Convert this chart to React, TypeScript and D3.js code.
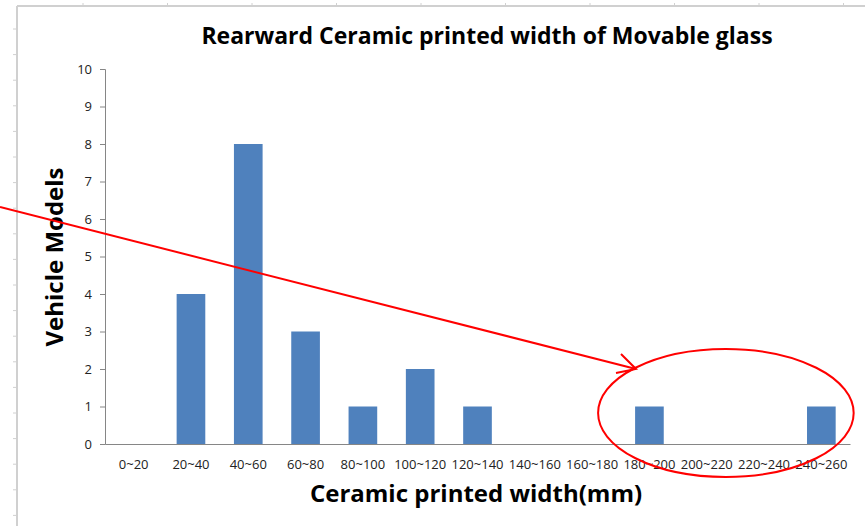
import React, { useEffect, useRef } from "react";
import * as d3 from "d3";

const width = 865,
  height = 526;

const categories = [
  "0~20", "20~40", "40~60", "60~80", "80~100", "100~120", "120~140",
  "140~160", "160~180", "180~200", "200~220", "220~240", "240~260",
];
const counts = [0, 4, 8, 3, 1, 2, 1, 0, 0, 1, 0, 0, 1];
const yTicks = [0, 1, 2, 3, 4, 5, 6, 7, 8, 9, 10];

const titleText = "Rearward Ceramic printed width of Movable glass";
const xTitle = "Ceramic printed width(mm)";
const yTitle = "Vehicle Models";

const margin = { top: 69, right: 15, bottom: 82, left: 105 };
const font = "'Open Sans', Lato, sans-serif";
const barColor = "#4f81bd";
const red = "#ff0000";

export default function App() {
  const svgRef = useRef<SVGSVGElement>(null);

  useEffect(() => {
    const svg = d3.select(svgRef.current);
    svg.selectAll("*").remove();

    const plotW = width - margin.left - margin.right;
    const plotH = height - margin.top - margin.bottom;

    // sheet frame (left + top border with little row / column marks)
    const frame = svg.append("g").attr("stroke", "#d0d0d0");
    frame.append("line").attr("x1", 17).attr("x2", 17).attr("y1", 6).attr("y2", height).attr("stroke-width", 2);
    frame.append("line").attr("x1", 17).attr("x2", width).attr("y1", 6).attr("y2", 6).attr("stroke-width", 2);
    d3.range(29, height, 25.6).forEach(y => {
      frame.append("line").attr("x1", 13).attr("x2", 16).attr("y1", y).attr("y2", y).attr("stroke-width", 1);
    });
    d3.range(83, width, 84.5).forEach(x => {
      frame.append("line").attr("x1", x).attr("x2", x).attr("y1", 3).attr("y2", 5).attr("stroke-width", 1);
    });

    const x = d3
      .scaleBand()
      .domain(categories)
      .range([0, plotW])
      .paddingInner(0.5)
      .paddingOuter(0.25);
    const y = d3.scaleLinear().domain([0, 10]).range([plotH, 0]);

    const g = svg
      .append("g")
      .attr("transform", `translate(${margin.left},${margin.top})`);

    // bars
    g.selectAll("rect.bar")
      .data(counts)
      .enter()
      .append("rect")
      .attr("class", "bar")
      .attr("x", (d, i) => x(categories[i]) as number)
      .attr("y", d => y(d))
      .attr("width", x.bandwidth())
      .attr("height", d => plotH - y(d))
      .attr("fill", barColor);

    // y axis
    const yAxis = g
      .append("g")
      .call(d3.axisLeft(y).tickValues(yTicks).tickSize(5).tickPadding(8).tickFormat(d3.format("d")));
    yAxis.select(".domain").attr("stroke", "#868686");
    yAxis.selectAll(".tick line").attr("stroke", "#868686");
    yAxis
      .selectAll(".tick text")
      .attr("fill", "#222")
      .style("font-family", font)
      .style("font-size", "13px");

    // x axis
    const xAxis = g
      .append("g")
      .attr("transform", `translate(0,${plotH})`)
      .call(d3.axisBottom(x).tickSize(0).tickPadding(16));
    xAxis.select(".domain").attr("stroke", "#868686");
    xAxis
      .selectAll(".tick text")
      .attr("fill", "#222")
      .style("font-family", font)
      .style("font-size", "13px");

    // titles
    svg
      .append("text")
      .attr("x", 487)
      .attr("y", 44)
      .attr("text-anchor", "middle")
      .style("font-family", font)
      .style("font-weight", "bold")
      .style("font-size", "23px")
      .text(titleText);

    svg
      .append("text")
      .attr("x", 476)
      .attr("y", 502)
      .attr("text-anchor", "middle")
      .style("font-family", font)
      .style("font-weight", "bold")
      .style("font-size", "24px")
      .text(xTitle);

    svg
      .append("text")
      .attr("transform", `translate(63,257) rotate(-90)`)
      .attr("text-anchor", "middle")
      .style("font-family", font)
      .style("font-weight", "bold")
      .style("font-size", "24px")
      .text(yTitle);

    // red annotation: ellipse around the wide widths + arrow pointing at it
    const left = margin.left + (x("180~200") as number) - 37;
    const right = margin.left + (x("240~260") as number) + x.bandwidth() + 18;
    const cx = (left + right) / 2;
    const cy = margin.top + y(1) + 6.5;
    const rx = (right - left) / 2;
    const ry = 64;

    const ann = svg.append("g").attr("stroke", red).attr("fill", "none").attr("stroke-width", 2);
    ann.append("ellipse").attr("cx", cx).attr("cy", cy).attr("rx", rx).attr("ry", ry);

    const tip: [number, number] = [636, 369];
    const start: [number, number] = [0, 207];
    ann.append("line").attr("x1", start[0]).attr("y1", start[1]).attr("x2", tip[0]).attr("y2", tip[1]);
    ann
      .append("polyline")
      .attr("points", [[621, 354], tip, [616, 373]].map(p => p.join(",")).join(" "));
  }, []);

  return (
    <svg
      ref={svgRef}
      width={width}
      height={height}
      style={{ position: "absolute", left: 0, top: 0, background: "#fff" }}
    />
  );
}
